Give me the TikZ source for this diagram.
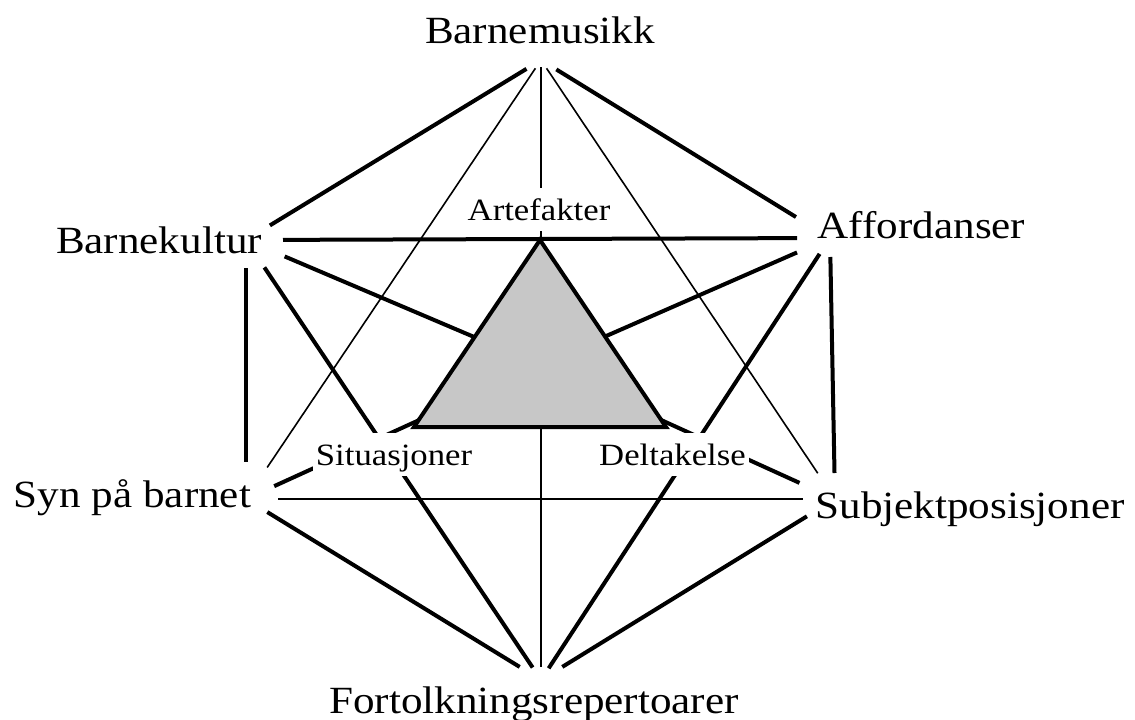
\documentclass[tikz,border=0pt]{standalone}
\usepackage{tikz}
\usepackage{fontspec}
\setmainfont{Liberation Serif}[FakeStretch=1.12]
\definecolor{trigray}{gray}{0.78}
\tikzset{
  big/.style={anchor=base,inner sep=0pt,font=\fontsize{38.5}{40}\selectfont},
  small/.style={anchor=base,fill=white,inner xsep=3pt,inner ysep=4pt,
    text height=28pt,text depth=7pt,font=\fontsize{31}{33}\selectfont},
  heavy/.style={line width=4pt},
  light/.style={line width=1.6pt}
}

\begin{document}
\begin{tikzpicture}[x=1pt,y=-1pt]
\useasboundingbox (0,0) rectangle (1135,720);

  % meeting points of the lines
  \coordinate (mus) at (541,60);
  \coordinate (kul) at (246,240);
  \coordinate (aff) at (830,238);
  \coordinate (syn) at (246,499);
  \coordinate (sub) at (835,499);
  \coordinate (fort) at (541,680);
  \coordinate (mid) at (540,365);

  % outer hexagon
  \draw[heavy,shorten <=17pt,shorten >=28pt] (mus) -- (kul);
  \draw[heavy,shorten <=18pt,shorten >=40pt] (mus) -- (aff);
  \draw[heavy,shorten <=28pt,shorten >=37pt] (kul) -- (syn);
  \draw[heavy,shorten <=19pt,shorten >=26pt] (aff) -- (sub);
  \draw[heavy,shorten <=25pt,shorten >=25pt] (syn) -- (fort);
  \draw[heavy,shorten <=33pt,shorten >=25pt] (sub) -- (fort);

  % cross lines
  \draw[heavy,shorten <=37pt,shorten >=33pt] (kul) -- (aff);
  \draw[heavy,shorten <=33pt,shorten >=15pt] (kul) -- (fort);
  \draw[heavy,shorten <=19pt,shorten >=14pt] (aff) -- (fort);
  \draw[light,shorten <=7pt,shorten >=13pt] (mus) -- (fort);
  \draw[light,shorten <=10pt,shorten >=38pt] (mus) -- (syn);
  \draw[light,shorten <=10pt,shorten >=31pt] (mus) -- (sub);
  \draw[light,shorten <=32pt,shorten >=32pt] (syn) -- (sub);

  % lines into the triangle
  \draw[heavy,shorten <=42pt] (kul) -- (mid);
  \draw[heavy,shorten <=36pt] (aff) -- (mid);
  \draw[heavy,shorten <=31pt] (syn) -- (mid);
  \draw[heavy,shorten <=39pt] (sub) -- (mid);

  \node[big] (barnemusikk) at (540,43) {Barnemusikk};
  \node[big] (barnekultur) at (159,253) {Barnekultur};
  \node[big] (affordanser) at (921.5,238) {Affordanser};
  \node[big] (synbarnet) at (132.5,507) {Syn på barnet};
  \node[big] (subjekt) at (970,518) {Subjektposisjoner};
  \node[big] (fortolkning) at (534,713) {Fortolkningsrepertoarer};

  \node[small] (artefakter) at (539,220) {Artefakter};
  \node[small] (situasjoner) at (394,465) {Situasjoner};
  \node[small] (deltakelse) at (672.5,465) {Deltakelse};

  \draw[heavy,fill=trigray] (540,240) -- (414,427) -- (666,427) -- cycle;

\end{tikzpicture}
\end{document}
